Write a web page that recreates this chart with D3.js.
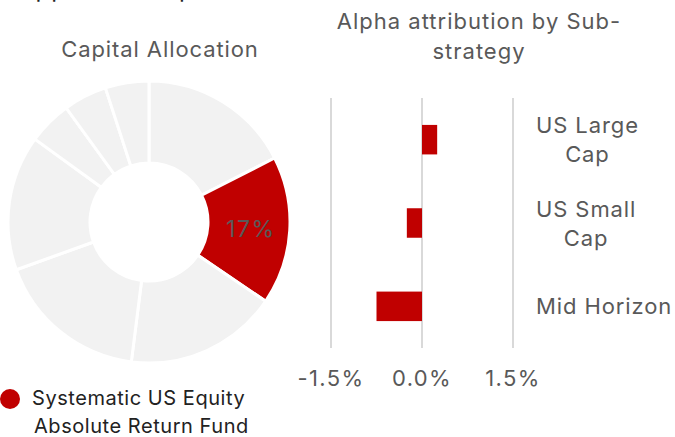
<!DOCTYPE html>
<html>
<head>
<meta charset="utf-8">
<script src="https://cdn.jsdelivr.net/npm/d3@7"></script>
<style>
  body { margin: 0; background: #fff; }
  svg { display: block; font-family: Inter, "Noto Sans", sans-serif; }
</style>
</head>
<body>
<svg id="chart" width="675" height="437"></svg>
<script>
// capital allocation (donut), clockwise from 12 o'clock
var allocNames = ["Fund A", "Systematic US Equity Absolute Return Fund", "Fund C", "Fund D", "Fund E", "Fund F", "Fund G", "Fund H"];
var allocValues = [17.5, 17, 17.5, 17.5, 15.5, 5, 5, 5];
var highlight = "Systematic US Equity Absolute Return Fund";

// alpha attribution by sub-strategy (%)
var subStrategies = ["US Large Cap", "US Small Cap", "Mid Horizon"];
var alphaValues = [0.25, -0.25, -0.75];
var xTicks = [-1.5, 0, 1.5];

var red = "#c00000", grey = "#f2f2f2", textGrey = "#595959";

var svg = d3.select("#chart");

// cropped heading above the charts, only descenders show
svg.append("text")
    .attr("x", 4).attr("y", -3)
    .attr("font-size", 24)
    .attr("letter-spacing", 1)
    .attr("fill", "#222")
    .text("Supplemental performance");

// ---- donut ----
var cx = 149, cy = 222, rOuter = 141, rInner = 59;

svg.append("text")
    .attr("x", 160).attr("y", 57)
    .attr("text-anchor", "middle")
    .attr("font-size", 22)
    .attr("letter-spacing", 0.9)
    .attr("fill", textGrey)
    .text("Capital Allocation");

var pie = d3.pie().sort(null).value(function(d) { return d.value; });
var arc = d3.arc().innerRadius(rInner).outerRadius(rOuter);
var labelArc = d3.arc().innerRadius(100).outerRadius(100);

var allocData = allocNames.map(function(n, i) { return {name: n, value: allocValues[i]}; });

var dg = svg.append("g").attr("transform", "translate(" + cx + "," + cy + ")");

dg.selectAll(".slice")
  .data(pie(allocData))
  .enter().append("path")
    .attr("class", "slice")
    .attr("d", arc)
    .attr("fill", function(d) { return d.data.name == highlight ? red : grey; })
    .attr("stroke", "#fff")
    .attr("stroke-width", 3);

dg.selectAll(".lbl")
  .data(pie(allocData).filter(function(d) { return d.data.name == highlight; }))
  .enter().append("text")
    .attr("class", "lbl")
    .attr("transform", function(d) { var c = labelArc.centroid(d); return "translate(" + (c[0] + 2) + "," + (c[1] + 9) + ")"; })
    .attr("text-anchor", "middle")
    .attr("font-size", 23)
    .attr("letter-spacing", 1.5)
    .attr("fill", textGrey)
    .text(function(d) { return Math.round(d.data.value) + "%"; });

// legend
svg.append("circle").attr("cx", 10).attr("cy", 399).attr("r", 10).attr("fill", red);
var leg = svg.append("text").attr("font-size", 20).attr("letter-spacing", 0.55).attr("fill", "#222");
leg.append("tspan").attr("x", 32).attr("y", 405).text("Systematic US Equity");
leg.append("tspan").attr("x", 34).attr("y", 433).text("Absolute Return Fund");

// ---- bar chart ----
var title = svg.append("text")
    .attr("text-anchor", "middle")
    .attr("font-size", 22)
    .attr("letter-spacing", 1)
    .attr("fill", textGrey);
title.append("tspan").attr("x", 479).attr("y", 29).text("Alpha attribution by Sub-");
title.append("tspan").attr("x", 479).attr("y", 59).text("strategy");

var x = d3.scaleLinear().domain([-1.5, 1.5]).range([331, 513]);
var y = d3.scaleBand().domain(subStrategies).range([98, 348]).paddingInner(0.646).paddingOuter(0.323);

svg.append("g")
  .selectAll("line")
  .data(xTicks)
  .enter().append("line")
    .attr("x1", function(d) { return x(d); })
    .attr("x2", function(d) { return x(d); })
    .attr("y1", 98).attr("y2", 348)
    .attr("stroke", "#d9d9d9")
    .attr("stroke-width", 2);

svg.append("g")
  .selectAll("rect")
  .data(subStrategies)
  .enter().append("rect")
    .attr("x", function(d, i) { return x(Math.min(0, alphaValues[i])); })
    .attr("y", function(d) { return y(d); })
    .attr("width", function(d, i) { return Math.abs(x(alphaValues[i]) - x(0)); })
    .attr("height", y.bandwidth())
    .attr("fill", red);

svg.append("g")
  .selectAll("text")
  .data(xTicks)
  .enter().append("text")
    .attr("x", function(d) { return x(d); })
    .attr("y", 386)
    .attr("text-anchor", "middle")
    .attr("font-size", 22)
    .attr("letter-spacing", 1.4)
    .attr("fill", textGrey)
    .text(function(d) { return d3.format(".1f")(d).replace("−", "-") + "%"; });

// category labels, wrapped and centred in a block starting at x=536
var labelLines = {"US Large Cap": ["US Large", "Cap"], "US Small Cap": ["US Small", "Cap"], "Mid Horizon": ["Mid Horizon"]};
subStrategies.forEach(function(s) {
  var lines = labelLines[s];
  var t = svg.append("text")
      .attr("font-size", 22)
      .attr("letter-spacing", 0.9)
      .attr("fill", textGrey)
      .attr("text-anchor", "middle");
  var mid = y(s) + y.bandwidth() / 2;
  var top = mid - (lines.length - 1) * 29 / 2 + 8;
  var spans = lines.map(function(l, i) {
    return t.append("tspan").attr("y", top + i * 29).text(l);
  });
  var w = d3.max(spans, function(sp) { return sp.node().getComputedTextLength(); });
  spans.forEach(function(sp) { sp.attr("x", 536 + w / 2); });
});
</script>
</body>
</html>
